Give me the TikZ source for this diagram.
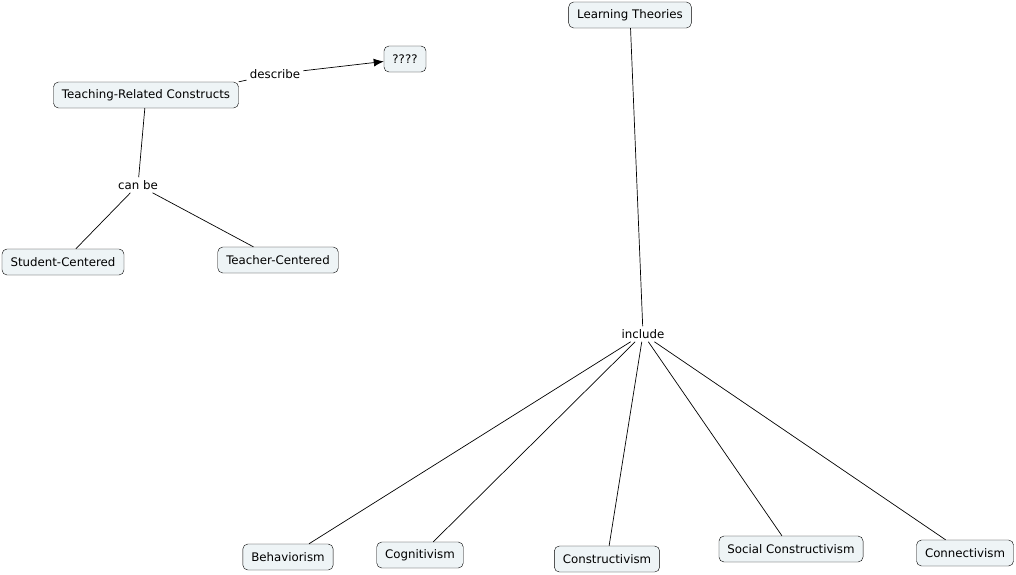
\documentclass[tikz,border=0pt]{standalone}
\usepackage{fontspec}
\setmainfont{DejaVu Sans}
\usetikzlibrary{arrows.meta}
\definecolor{conceptfill}{RGB}{238,244,246}

\begin{document}
\begin{tikzpicture}[x=1pt,y=-1pt,font=\fontsize{11.8}{13}\selectfont,
	concept/.style={draw,rounded corners=5pt,fill=conceptfill,inner xsep=8.5pt,minimum height=26pt},
	linkword/.style={inner sep=3pt},
	link/.style={draw,line width=0.7pt}]
	\useasboundingbox (0,0) rectangle (1016,574);
	% teaching side
	\node[concept] (trc) at (146,95) {Teaching-Related Constructs};
	\node[concept] (unknown) at (405,59) {????};
	\node[concept] (student) at (63,262) {Student-Centered};
	\node[concept] (teacher) at (278,260) {Teacher-Centered};
	\node[linkword] (describe) at (275,74) {describe};
	\node[linkword] (canbe) at (138,185) {can be};
	\draw[link] (trc.north east) -- (describe);
	\draw[link,-{Latex[length=10pt,width=8pt]}] (describe) -- (unknown);
	\draw[link] (trc) -- (canbe);
	\draw[link] (canbe) -- (student);
	\draw[link] (canbe) -- (teacher);
	% learning theories
	\node[concept] (theories) at (630,15) {Learning Theories};
	\node[linkword] (include) at (643,334) {include};
	\node[concept] (behav) at (288,557) {Behaviorism};
	\node[concept] (cogn) at (420,555) {Cognitivism};
	\node[concept] (constr) at (607,559) {Constructivism};
	\node[concept] (social) at (791,549) {Social Constructivism};
	\node[concept] (connect) at (965,553) {Connectivism};
	\draw[link] (theories) -- (include);
	\foreach \t in {behav,cogn,constr,social,connect}
		\draw[link] (include) -- (\t);
\end{tikzpicture}
\end{document}
